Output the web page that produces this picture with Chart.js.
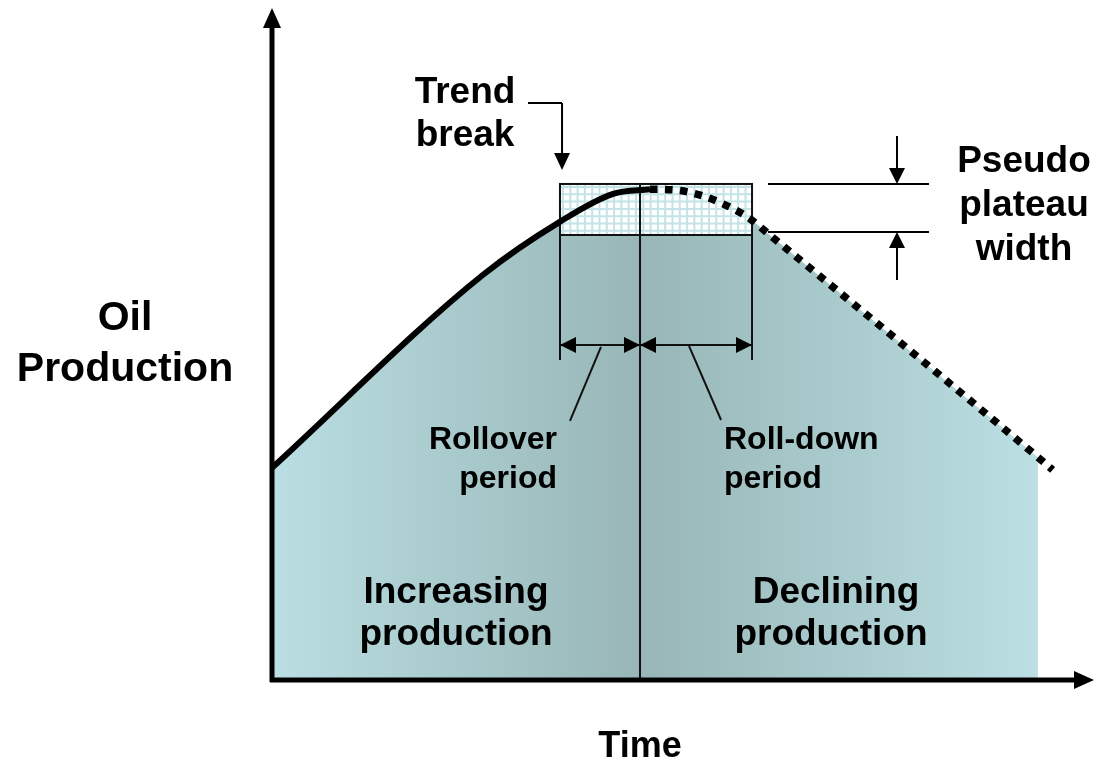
<!DOCTYPE html>
<html>
<head>
<meta charset="utf-8">
<script src="https://cdn.jsdelivr.net/npm/chart.js@4"></script>
<style>
  body { margin: 0; background: #fff; }
  #wrap { width: 1094px; height: 762px; }
</style>
</head>
<body>
<div id="wrap"><canvas id="oil-chart"></canvas></div>
<script>
// curve (time 0..100, production 0..100)
const risingTime = [0, 25.7, 35.1, 41.6, 46.1];
const risingProd = [31.9, 60.9, 68.9, 73.1, 73.8];
const decliningTime = [46.1, 49, 52, 55, 58, 61, 93.4, 95.2];
const decliningProd = [73.8, 73.7, 73.0, 71.6, 69.6, 66.6, 33.5, 31.6];
const fillEndTime = 93.4;

const toPoints = (xs, ys) => xs.map((x, i) => ({ x: x, y: ys[i] }));
const risingPts = toPoints(risingTime, risingProd);
const decliningPts = toPoints(decliningTime, decliningProd);
const fillPts = risingPts.concat(decliningPts.slice(1).filter(p => p.x <= fillEndTime));

const FONT = '"Liberation Sans", Arial, sans-serif';

const arrowHead = (ctx, x, y, dx, dy, len, half) => {
    // tip at x,y pointing along dx,dy
    ctx.beginPath();
    ctx.moveTo(x, y);
    ctx.lineTo(x - dx * len - dy * half, y - dy * len + dx * half);
    ctx.lineTo(x - dx * len + dy * half, y - dy * len - dx * half);
    ctx.closePath();
    ctx.fill();
};

const line = (ctx, x1, y1, x2, y2, w) => {
    ctx.lineWidth = w;
    ctx.beginPath();
    ctx.moveTo(x1, y1);
    ctx.lineTo(x2, y2);
    ctx.stroke();
};

// lines of text given by baselines
const text = (ctx, lines, x, y, gap, size, align) => {
    ctx.font = 'bold ' + size + 'px ' + FONT;
    ctx.textAlign = align;
    ctx.textBaseline = 'alphabetic';
    lines.forEach((t, i) => ctx.fillText(t, x, y + i * gap));
};

// plateau box, periods and labels, drawn right after the fill
const boxPlugin = {
    id: 'plateauBox',
    afterDatasetDraw(chart, args) {
        if (args.index !== 2) return;
        const ctx = chart.ctx;
        const X = v => chart.scales.x.getPixelForValue(v);
        const Y = v => chart.scales.y.getPixelForValue(v);
        const bx1 = X(35.12), bx2 = X(58.54), mid = X(44.88);
        const by1 = Y(74.59), by2 = Y(66.92);
        ctx.save();
        ctx.fillStyle = '#ffffff';
        ctx.fillRect(bx1, by1, bx2 - bx1, by2 - by1);
        ctx.strokeStyle = '#c3e3e6';
        for (let gx = bx1 + 3; gx < bx2; gx += 7.3) line(ctx, gx, by1, gx, by2, 2);
        for (let gy = by1 + 3; gy < by2; gy += 7.3) line(ctx, bx1, gy, bx2, gy, 2);
        ctx.strokeStyle = '#111';
        ctx.lineWidth = 2;
        ctx.strokeRect(bx1, by1, bx2 - bx1, by2 - by1);
        // verticals
        line(ctx, mid, by1, mid, Y(0), 2);
        line(ctx, bx1, by2, bx1, Y(48.12), 2);
        line(ctx, bx2, by2, bx2, Y(48.12), 2);
        // period arrows
        const py = Y(50.38);
        ctx.fillStyle = '#000';
        line(ctx, bx1, py, mid, py, 2);
        line(ctx, mid, py, bx2, py, 2);
        arrowHead(ctx, bx1, py, -1, 0, 16, 8);
        arrowHead(ctx, mid, py, 1, 0, 16, 8);
        arrowHead(ctx, mid, py, -1, 0, 16, 8);
        arrowHead(ctx, bx2, py, 1, 0, 16, 8);
        line(ctx, X(40.12), Y(50.08), X(36.34), Y(38.95), 2);
        line(ctx, X(50.85), Y(50.23), X(54.76), Y(39.10), 2);
        ctx.restore();
    },
    afterDraw(chart) {
        const ctx = chart.ctx;
        const X = v => chart.scales.x.getPixelForValue(v);
        const Y = v => chart.scales.y.getPixelForValue(v);
        ctx.save();
        ctx.strokeStyle = '#000';
        ctx.fillStyle = '#000';
        // axes
        const ox = X(0), oy = Y(0);
        line(ctx, ox, oy + 2, ox, 26, 5);
        arrowHead(ctx, ox, 8, 0, -1, 20, 9);
        line(ctx, ox - 2, oy, 1076, oy, 5);
        arrowHead(ctx, 1094, oy, 1, 0, 20, 9);
        // trend break leader
        line(ctx, X(31.22), Y(86.77), X(35.37), Y(86.77), 2);
        line(ctx, X(35.37), Y(86.77), X(35.37), Y(76.69) - 15, 2);
        arrowHead(ctx, X(35.37), Y(76.69), 0, 1, 17, 8);
        // pseudo plateau width
        const tx1 = X(60.49), tx2 = X(80.12), ax = X(76.22);
        line(ctx, tx1, Y(74.59), tx2, Y(74.59), 2);
        line(ctx, tx1, Y(67.37), tx2, Y(67.37), 2);
        line(ctx, ax, Y(81.8), ax, Y(74.59) - 14, 2);
        arrowHead(ctx, ax, Y(74.59), 0, 1, 16, 8);
        line(ctx, ax, Y(60.15), ax, Y(67.37) + 14, 2);
        arrowHead(ctx, ax, Y(67.37), 0, -1, 16, 8);
        // labels
        text(ctx, ['Oil', 'Production'], 125, 330, 51, 41, 'center');
        text(ctx, ['Time'], 640, 757, 0, 36, 'center');
        text(ctx, ['Trend', 'break'], 465, 103, 43, 37, 'center');
        text(ctx, ['Pseudo', 'plateau', 'width'], 1024, 172, 44, 37, 'center');
        text(ctx, ['Rollover', 'period'], 557, 449, 39, 32, 'right');
        text(ctx, ['Roll-down', 'period'], 724, 449, 39, 32, 'left');
        text(ctx, ['Increasing'], 456, 603, 0, 37, 'center');
        text(ctx, ['production'], 456, 645, 0, 37, 'center');
        text(ctx, ['Declining'], 836, 603, 0, 37, 'center');
        text(ctx, ['production'], 831, 645, 0, 37, 'center');
        ctx.restore();
    }
};

const areaGradient = (context) => {
    const chart = context.chart;
    if (!chart.chartArea) return '#b0cfd2';
    const xs = chart.scales.x;
    const x0 = xs.getPixelForValue(0), x1 = xs.getPixelForValue(fillEndTime);
    const g = chart.ctx.createLinearGradient(x0, 0, x1, 0);
    const m = (xs.getPixelForValue(44.88) - x0) / (x1 - x0);
    g.addColorStop(0, '#badee2');
    g.addColorStop(m, '#98b6b7');
    g.addColorStop(1, '#bbdfe3');
    return g;
};

new Chart(document.getElementById('oil-chart').getContext('2d'), {
    type: 'line',
    data: {
        datasets: [{
            label: 'Rising',
            data: risingPts,
            borderColor: '#000',
            borderWidth: 6,
            pointRadius: 0,
            cubicInterpolationMode: 'monotone',
            fill: false
        }, {
            label: 'Declining',
            data: decliningPts,
            borderColor: '#000',
            borderWidth: 7.5,
            borderDash: [7.5, 7.5],
            pointRadius: 0,
            cubicInterpolationMode: 'monotone',
            fill: false
        }, {
            label: 'Area',
            data: fillPts,
            borderWidth: 0,
            borderColor: 'rgba(0,0,0,0)',
            backgroundColor: areaGradient,
            pointRadius: 0,
            cubicInterpolationMode: 'monotone',
            fill: 'origin'
        }]
    },
    options: {
        responsive: true,
        maintainAspectRatio: false,
        animation: false,
        layout: { padding: { left: 272, right: 2, top: 15, bottom: 82 } },
        plugins: { legend: { display: false }, tooltip: { enabled: false } },
        scales: {
            x: { type: 'linear', min: 0, max: 100, display: false },
            y: { min: 0, max: 100, display: false }
        }
    },
    plugins: [boxPlugin]
});
</script>
</body>
</html>
